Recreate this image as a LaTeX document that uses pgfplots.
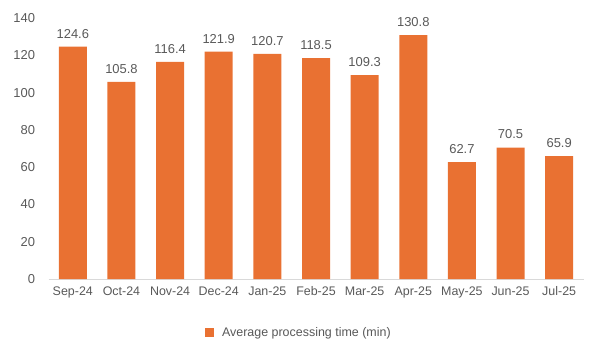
\documentclass[border=0pt]{standalone}
\usepackage{pgfplots}
\pgfplotsset{compat=1.18}
\usepackage{fontspec}
\setmainfont{Liberation Sans}
\definecolor{barorange}{HTML}{E97132}
\definecolor{txtgray}{HTML}{595959}
\definecolor{axgray}{HTML}{D9D9D9}
\begin{document}
\begin{tikzpicture}
\path[use as bounding box] (0,0) rectangle (592bp,341bp);
\begin{axis}[
  at={(48.5bp,62bp)}, anchor=south west,
  scale only axis, width=535bp, height=261bp,
  xmin=-0.5, xmax=10.5, ymin=0, ymax=140,
  ytick={0,20,...,140},
  xtick=data,
  xticklabels={Sep-24,Oct-24,Nov-24,Dec-24,Jan-25,Feb-25,Mar-25,Apr-25,May-25,Jun-25,Jul-25},
  axis y line=none,
  axis x line*=bottom,
  x axis line style={axgray, line width=1pt, -},
  hide y axis=false,
  y axis line style={draw=none},
  major tick length=0pt,
  tick style={draw=none},
  ticklabel style={font=\fontsize{12.5}{14}\selectfont, text=txtgray},
  yticklabel style={xshift=-10bp, font=\fontsize{13}{15}\selectfont},
  xticklabel style={yshift=-4bp},
  /pgf/number format/assume math mode=true,
  bar width=28bp,
  nodes near coords,
  nodes near coords style={font=\fontsize{13}{15}\selectfont, text=txtgray, yshift=5bp, /pgf/number format/.cd, fixed, fixed zerofill, precision=1},
  legend style={at={(0.468,-0.17)}, anchor=north, draw=none, font=\fontsize{12.5}{14}\selectfont, text=txtgray},
  legend image code/.code={\fill[barorange] (0bp,-4.5bp) rectangle (9bp,4.5bp); \path (15bp,0bp);},
  clip=false,
]
\addplot[ybar, fill=barorange, draw=none] coordinates {
(0,124.6) (1,105.8) (2,116.4) (3,121.9) (4,120.7) (5,118.5) (6,109.3) (7,130.8) (8,62.7) (9,70.5) (10,65.9)};
\addlegendentry{Average processing time (min)}
\end{axis}
\end{tikzpicture}
\end{document}
